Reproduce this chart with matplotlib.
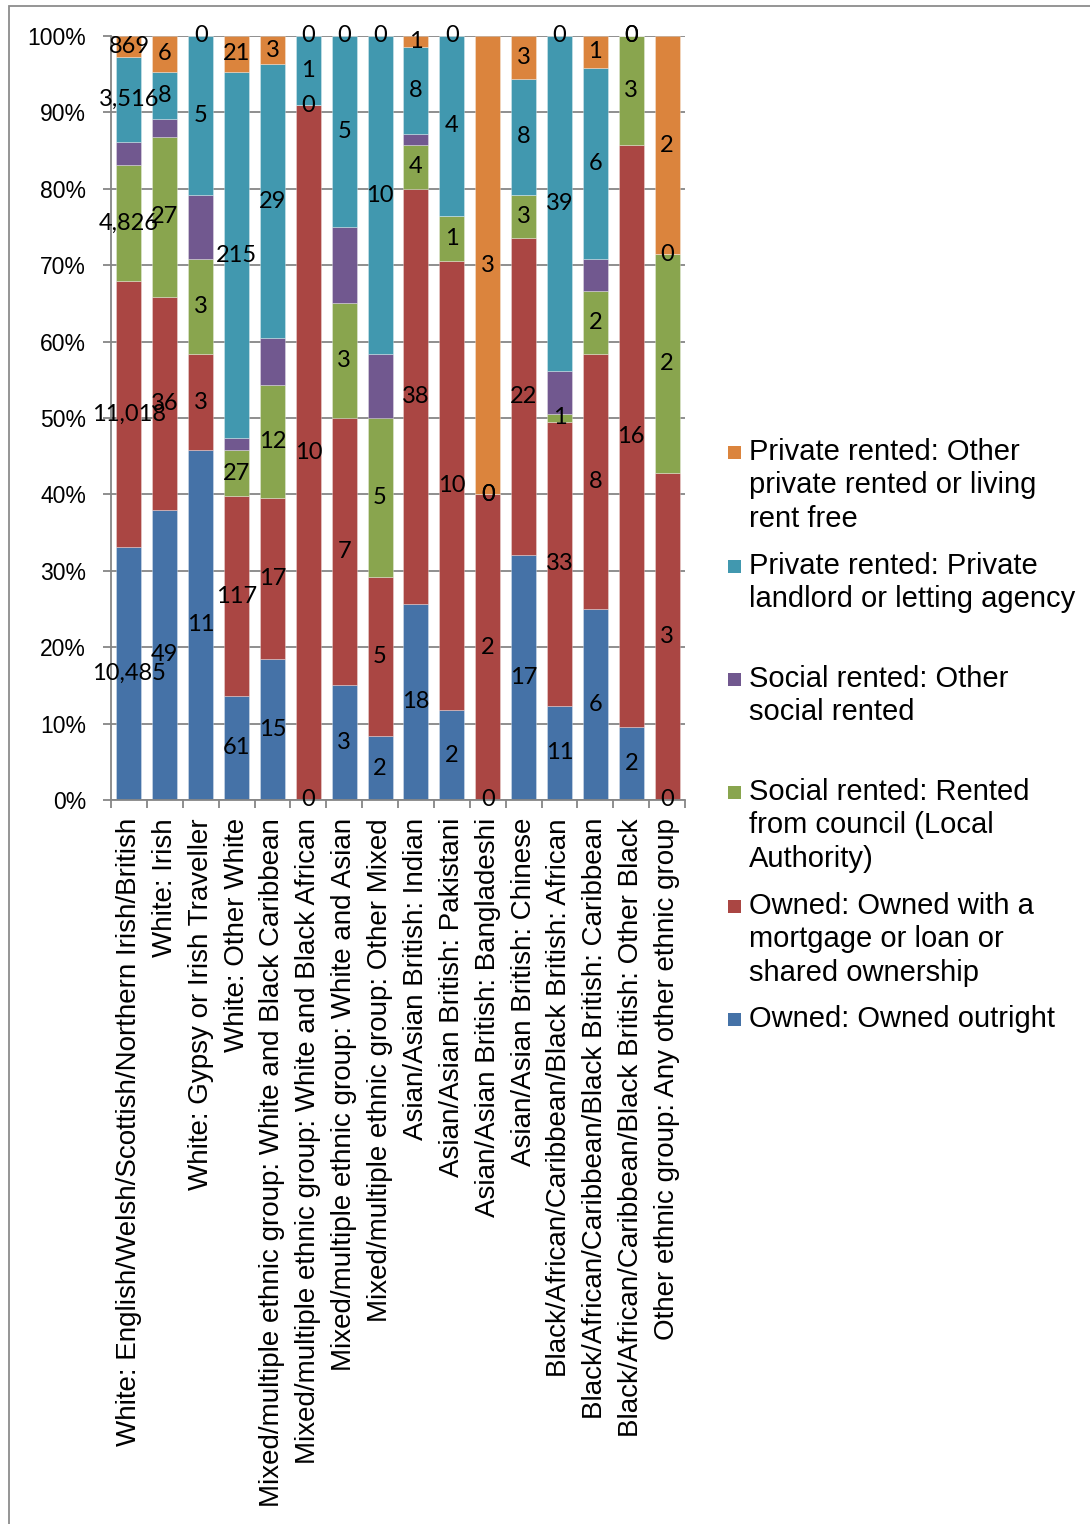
import matplotlib
matplotlib.use("Agg")
import matplotlib.pyplot as plt
from matplotlib.patches import Rectangle
import numpy as np

categories = [
    "White: English/Welsh/Scottish/Northern Irish/British",
    "White: Irish",
    "White: Gypsy or Irish Traveller",
    "White: Other White",
    "Mixed/multiple ethnic group: White and Black Caribbean",
    "Mixed/multiple ethnic group: White and Black African",
    "Mixed/multiple ethnic group: White and Asian",
    "Mixed/multiple ethnic group: Other Mixed",
    "Asian/Asian British: Indian",
    "Asian/Asian British: Pakistani",
    "Asian/Asian British: Bangladeshi",
    "Asian/Asian British: Chinese",
    "Black/African/Caribbean/Black British: African",
    "Black/African/Caribbean/Black British: Caribbean",
    "Black/African/Caribbean/Black British: Other Black",
    "Other ethnic group: Any other ethnic group",
]

owned_outright = [10485, 49, 11, 61, 15, 0, 3, 2, 18, 2, 0, 17, 11, 6, 2, 0]
owned_mortgage = [11018, 36, 3, 117, 17, 10, 7, 5, 38, 10, 2, 22, 33, 8, 16, 3]
social_council = [4826, 27, 3, 27, 12, 0, 3, 5, 4, 1, 0, 3, 1, 2, 3, 2]
social_other = [950, 3, 2, 7, 5, 0, 2, 2, 1, 0, 0, 0, 5, 1, 0, 0]
private_landlord = [3516, 8, 5, 215, 29, 1, 5, 10, 8, 4, 0, 8, 39, 6, 0, 0]
private_other = [869, 6, 0, 21, 3, 0, 0, 0, 1, 0, 3, 3, 0, 1, 0, 2]

series_names = [
    "Owned: Owned outright",
    "Owned: Owned with a\nmortgage or loan or\nshared ownership",
    "Social rented: Rented\nfrom council (Local\nAuthority)",
    "Social rented: Other\nsocial rented",
    "Private rented: Private\nlandlord or letting agency",
    "Private rented: Other\nprivate rented or living\nrent free",
]
series_values = [owned_outright, owned_mortgage, social_council,
                 social_other, private_landlord, private_other]
series_colors = ["#4572A7", "#AA4643", "#89A54E", "#71588F", "#4198AF", "#DB843D"]
show_labels = [True, True, True, False, True, True]

W, H = 1090, 1524
fig = plt.figure(figsize=(W / 100, H / 100), dpi=100)
fig.patch.set_facecolor("white")

# outer chart border
fig.patches.append(Rectangle((9 / W, -0.1), 1.2, 1.1 - 6 / H,
                             transform=fig.transFigure, fill=False,
                             edgecolor="#8c8c8c", linewidth=1.3))

ax = fig.add_axes([111 / W, 1 - 800 / H, (685 - 111) / W, (800 - 36) / H])

counts = np.array(series_values, dtype=float)
totals = counts.sum(axis=0)
pct = counts / totals * 100

x = np.arange(len(categories))
bottom = np.zeros(len(categories))
label_font = {"family": ["Lato", "DejaVu Sans"], "size": 17}
for vals, p, col, show in zip(series_values, pct, series_colors, show_labels):
    ax.bar(x, p, width=0.70, bottom=bottom, color=col, zorder=2,
           edgecolor=(1, 1, 1, 0.35), linewidth=0.6)
    if show:
        for xi, v, b, h in zip(x, vals, bottom, p):
            ax.text(xi, b + h / 2, f"{int(v):,}", ha="center", va="center",
                    color="black", fontdict=label_font, zorder=5, clip_on=False)
    bottom = bottom + p

ax.set_xlim(-0.5, len(categories) - 0.5)
ax.set_ylim(0, 100)
ax.set_yticks(np.arange(0, 101, 10))
ax.set_yticklabels([f"{v}%" for v in range(0, 101, 10)],
                   fontfamily="Liberation Sans", fontsize=16.5)
ax.yaxis.grid(True, color="#868686", linewidth=1.3, zorder=0)
ax.set_axisbelow(True)

ax.set_xticks(x)
ax.set_xticklabels(categories, rotation=90, ha="center", va="top",
                   fontfamily="Liberation Sans", fontsize=20)
ax.set_xticks(np.arange(-0.5, len(categories), 1), minor=True)
ax.tick_params(axis="x", which="major", length=0, pad=13)
ax.tick_params(axis="x", which="minor", length=6, width=1.3, color="#868686")
ax.tick_params(axis="y", which="major", length=6, width=1.3, color="#868686", pad=12)

for s in ["top", "right"]:
    ax.spines[s].set_visible(False)
for s in ["left", "bottom"]:
    ax.spines[s].set_color("#868686")
    ax.spines[s].set_linewidth(1.3)

# legend, top entry = last series; marker aligned with the first text line
legend_y = [452, 566, 679, 792, 906, 1019]
order = list(range(len(series_names)))[::-1]
for yy, idx in zip(legend_y, order):
    fig.patches.append(Rectangle((728 / W, 1 - (yy + 6.5) / H), 13 / W, 13 / H,
                                 transform=fig.transFigure,
                                 facecolor=series_colors[idx], edgecolor="none"))
    fig.text(749 / W, 1 - (yy - 14) / H, series_names[idx], ha="left", va="top",
             fontfamily="Liberation Sans", fontsize=21, linespacing=1.24,
             transform=fig.transFigure)

fig.savefig("out.png", dpi=100)
